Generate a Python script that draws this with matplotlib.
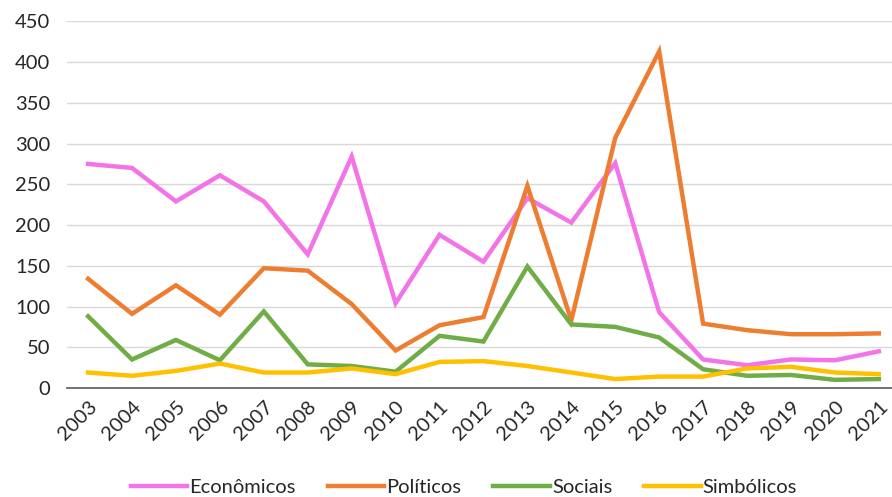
import matplotlib
matplotlib.use("Agg")
import matplotlib.pyplot as plt

years = [str(y) for y in range(2003, 2022)]
economicos = [275, 270, 229, 261, 229, 164, 284, 104, 188, 155, 233, 203, 276, 93, 35, 28, 35, 34, 45]
politicos = [134, 91, 126, 90, 147, 144, 103, 46, 77, 87, 248, 83, 307, 413, 79, 71, 66, 66, 67]
sociais = [88, 35, 59, 34, 94, 29, 27, 20, 64, 57, 149, 78, 75, 62, 23, 15, 16, 10, 11]
simbolicos = [19, 15, 21, 30, 19, 19, 24, 17, 32, 33, 27, 19, 11, 14, 14, 24, 26, 19, 17]

series = [
    ("Econômicos", economicos, "#F274E8"),
    ("Políticos", politicos, "#ED7D31"),
    ("Sociais", sociais, "#70AD47"),
    ("Simbólicos", simbolicos, "#FFC000"),
]

plt.rcParams["font.family"] = ["Lato", "DejaVu Sans"]

fig = plt.figure(figsize=(8.92, 4.97), dpi=100)
ax = fig.add_axes([67 / 892, 1 - 388 / 497, (892 - 67) / 892, (388 - 21.3) / 497])

x = list(range(len(years)))
for name, vals, color in series:
    ax.plot(x, vals, color=color, lw=3.2, label=name, solid_joinstyle="miter", zorder=3)

ax.set_ylim(0, 450)
ax.set_xlim(-0.48, 18.3)
ax.set_yticks(range(0, 451, 50))
ax.set_xticks(x)
ax.set_xticklabels(years, rotation=45, ha="right", rotation_mode="anchor")
ax.tick_params(axis="both", length=0, labelsize=14.5)
ax.tick_params(axis="x", pad=7)
ax.tick_params(axis="y", pad=12)
for lbl in ax.get_yticklabels() + ax.get_xticklabels():
    lbl.set_color("#262626")

ax.grid(axis="y", color="#D9D9D9", lw=1)
ax.set_axisbelow(True)
for side in ("top", "right", "left"):
    ax.spines[side].set_visible(False)
ax.spines["bottom"].set_color("#595959")
ax.spines["bottom"].set_linewidth(1.2)

leg = fig.legend(loc="center", bbox_to_anchor=(464 / 892, 1 - 487 / 497), ncol=4, frameon=False,
                 fontsize=14.5, handlelength=2.8, handletextpad=0.1, columnspacing=1.6)
for t in leg.get_texts():
    t.set_color("#262626")

fig.savefig("out.png", dpi=100)
